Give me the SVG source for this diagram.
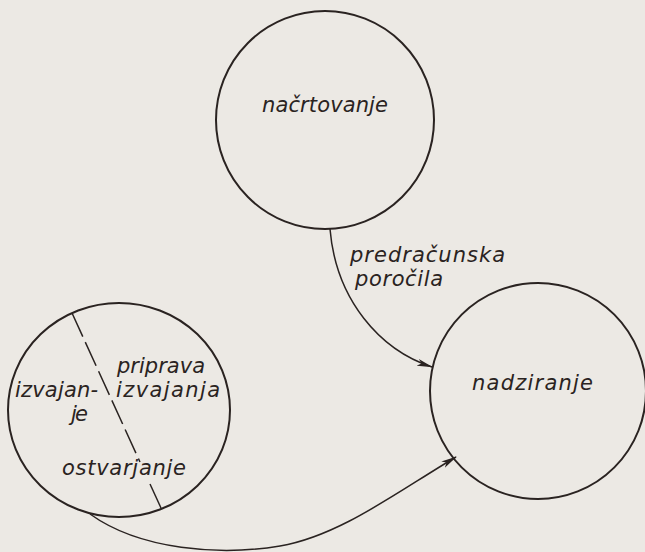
<svg xmlns="http://www.w3.org/2000/svg" width="645" height="552" viewBox="0 0 645 552">
  <style>
    .node { fill: none; stroke: #2a2321; stroke-width: 2; }
    .edge { fill: none; stroke: #2a2321; stroke-width: 1.5; }
    .lbl { font-family: "DejaVu Sans", "Liberation Sans", sans-serif; font-style: italic; font-size: 21px; fill: #2a2321; }
  </style>
  <defs>
    <marker id="arrow" viewBox="0 0 16 8" refX="15" refY="4" markerWidth="16" markerHeight="8" markerUnits="userSpaceOnUse" orient="auto">
      <path d="M0,0.5 L16,4 L0,7.5 L4,4 Z" fill="#2a2321"/>
    </marker>
  </defs>
  <rect width="645" height="552" fill="#ece9e4"/>

  <g id="connectors">
    <path class="edge" d="M330,229 C336,300 380,350 432,367" marker-end="url(#arrow)"/>
    <path class="edge" d="M90,514 C140,550 220,556 280,546 S400,490 456,457" marker-end="url(#arrow)"/>
  </g>

  <g id="nacrtovanje">
    <circle class="node" cx="325" cy="120" r="109"/>
    <text class="lbl" x="262" y="112" textLength="126" lengthAdjust="spacing">načrtovanje</text>
  </g>

  <g id="predracunska-porocila">
    <text class="lbl" x="350" y="262" textLength="155" lengthAdjust="spacing">predračunska</text>
    <text class="lbl" x="355" y="286" textLength="88" lengthAdjust="spacing">poročila</text>
  </g>

  <g id="nadziranje">
    <circle class="node" cx="538" cy="391" r="108"/>
    <text class="lbl" x="472" y="390" textLength="121" lengthAdjust="spacing">nadziranje</text>
  </g>

  <g id="izvajanje">
    <ellipse class="node" cx="119" cy="410" rx="111" ry="107"/>
    <!-- boundary between preparation and realisation -->
    <path class="edge" d="M72,313 L140,462" stroke-dasharray="26 6"/>
    <path class="edge" d="M150,484 L161,508"/>
    <text class="lbl" x="117" y="373" textLength="88" lengthAdjust="spacing">priprava</text>
    <text class="lbl" x="116" y="397" textLength="104" lengthAdjust="spacing">izvajanja</text>
    <text class="lbl" x="15" y="397" textLength="83" lengthAdjust="spacing">izvajan-</text>
    <text class="lbl" x="71" y="421" textLength="17" lengthAdjust="spacing">je</text>
    <text class="lbl" x="62" y="475" textLength="124" lengthAdjust="spacing">ostvarjanje</text>
  </g>
</svg>
